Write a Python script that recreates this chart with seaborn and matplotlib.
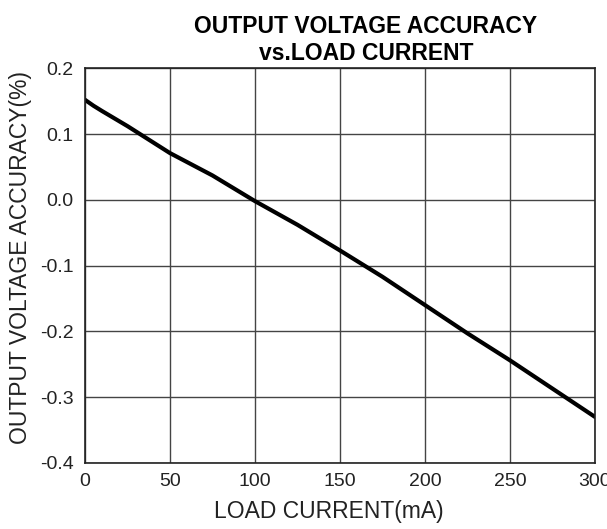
import pandas as pd
import numpy as np
import seaborn as sns
import matplotlib.pyplot as plt

# curve
load_ma = [0, 5, 10, 25, 50, 75, 100, 125, 150, 175, 200, 225, 250, 275, 300]
accuracy = [0.152, 0.143, 0.135, 0.112, 0.071, 0.037, -0.002, -0.038, -0.077,
            -0.117, -0.160, -0.203, -0.244, -0.287, -0.330]
x_ticks = [0, 50, 100, 150, 200, 250, 300]
y_ticks = [0.2, 0.1, 0.0, -0.1, -0.2, -0.3, -0.4]
y_labels = ['0.2', '0.1', '0.0', '-0.1', '-0.2', '-0.3', '-0.4']

sns.set_style('white')
plt.rcParams['font.family'] = ['Liberation Sans', 'DejaVu Sans']

df = pd.DataFrame({'current': load_ma, 'acc': accuracy})

fig = plt.figure(figsize=(6.07, 5.29), dpi=100)
ax = fig.add_axes([0.140, 0.125, 0.840, 0.746])
sns.lineplot(x='current', y='acc', data=df, color='black', linewidth=3, ax=ax)

ax.set_xlim(0, 300)
ax.set_ylim(-0.4, 0.2)
ax.set_xticks(x_ticks)
ax.set_yticks(y_ticks)
ax.set_yticklabels(y_labels)
ax.tick_params(length=0, labelsize=14, colors='#222222')
ax.tick_params(axis='x', pad=7)
ax.tick_params(axis='y', pad=8)
ax.grid(True, color='#444444', linewidth=1)
for s in ax.spines.values():
    s.set_color('#222222')
    s.set_linewidth(1.2)

ax.set_xlabel('LOAD CURRENT(mA)', fontsize=16.5, color='#222222')
ax.set_ylabel('OUTPUT VOLTAGE ACCURACY(%)', fontsize=16.5, color='#222222')
ax.xaxis.set_label_coords(0.478, -0.094)
ax.yaxis.set_label_coords(-0.104, 0.52)
fig.text(0.603, 0.924, 'OUTPUT VOLTAGE ACCURACY\nvs.LOAD CURRENT', ha='center', va='center',
         fontsize=16.5, fontweight='bold', linespacing=1.2, color='black')

plt.savefig('out.png', dpi=100)
